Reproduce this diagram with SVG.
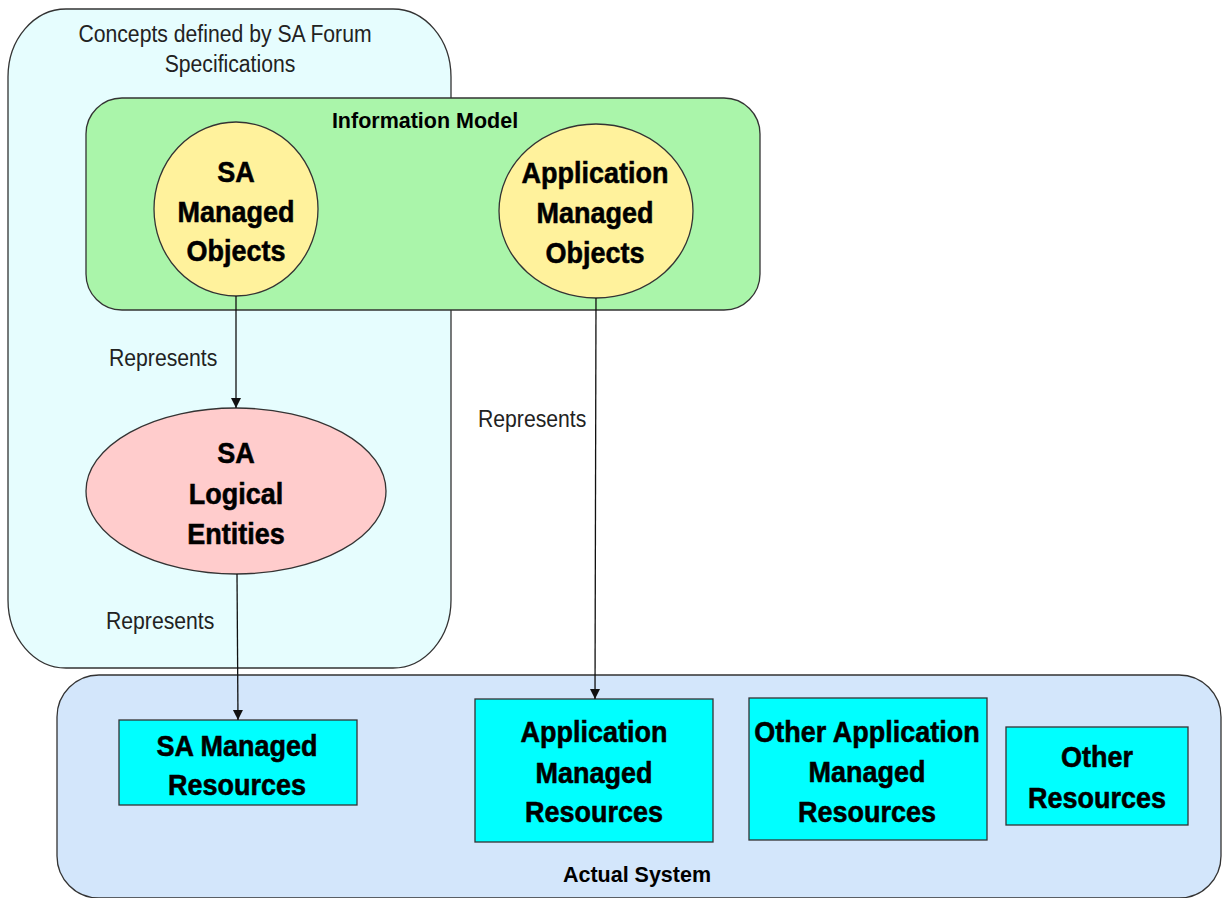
<svg xmlns="http://www.w3.org/2000/svg" width="1222" height="898" viewBox="0 0 1222 898">
  <style>
    .frame { stroke: #333; stroke-width: 1.3; }
    .big { font-family: "Liberation Sans", Arial, sans-serif; font-weight: bold; font-size: 27px; fill: #000; stroke: #000; stroke-width: 0.5; text-anchor: middle; }
    .title { font-family: "Liberation Sans", Arial, sans-serif; font-weight: bold; font-size: 21.5px; fill: #000; text-anchor: middle; }
    .plain { font-family: "Liberation Sans", Arial, sans-serif; font-size: 21.2px; fill: #222; }
    .edge { stroke: #111; stroke-width: 1.3; fill: none; marker-end: url(#arrow); }
  </style>
  <defs>
    <marker id="arrow" viewBox="0 0 10 14" refX="10" refY="7" markerUnits="userSpaceOnUse" markerWidth="10" markerHeight="14" orient="auto">
      <path d="M0,2 L10,7 L0,12 Z" fill="#111"/>
    </marker>
  </defs>
  <rect width="1222" height="898" fill="#fff"/>

  <!-- Specification scope -->
  <g id="concepts">
    <rect class="frame" x="8" y="9" width="443" height="659" rx="58" ry="68" fill="#E6FDFE"/>
    <text class="plain" text-anchor="middle" transform="matrix(1 0 0 1.15 225 42)">Concepts defined by SA Forum</text>
    <text class="plain" text-anchor="middle" transform="matrix(1 0 0 1.15 230 72)">Specifications</text>
  </g>

  <!-- Deployed system -->
  <g id="actual-system">
    <rect class="frame" x="57" y="675" width="1164" height="223" rx="42" ry="42" fill="#D3E6FB"/>
    <text class="title" transform="matrix(1 0 0 1.05 637 882)">Actual System</text>
  </g>

  <!-- Information model -->
  <g id="information-model">
    <rect class="frame" x="86" y="98" width="674" height="212" rx="36" ry="36" fill="#AAF5AA"/>
    <text class="title" transform="matrix(1 0 0 1.05 425 128)">Information Model</text>
  </g>

  <g id="sa-managed-objects">
    <ellipse class="frame" cx="236" cy="209" rx="82" ry="87" fill="#FFF29C"/>
    <text class="big" transform="matrix(1 0 0 1.08 236 182)">SA</text>
    <text class="big" transform="matrix(1 0 0 1.08 236 222)">Managed</text>
    <text class="big" transform="matrix(1 0 0 1.08 236 261)">Objects</text>
  </g>

  <g id="app-managed-objects">
    <ellipse class="frame" cx="596" cy="211" rx="97" ry="87" fill="#FFF29C"/>
    <text class="big" transform="matrix(1 0 0 1.08 595 183)">Application</text>
    <text class="big" transform="matrix(1 0 0 1.08 595 223)">Managed</text>
    <text class="big" transform="matrix(1 0 0 1.08 595 263)">Objects</text>
  </g>

  <g id="sa-logical-entities">
    <ellipse class="frame" cx="236" cy="491" rx="150" ry="83" fill="#FFCCCC"/>
    <text class="big" transform="matrix(1 0 0 1.08 236 463)">SA</text>
    <text class="big" transform="matrix(1 0 0 1.08 236 504)">Logical</text>
    <text class="big" transform="matrix(1 0 0 1.08 236 544)">Entities</text>
  </g>

  <g id="sa-managed-resources">
    <rect class="frame" x="119" y="720" width="238" height="85" fill="#00FFFF"/>
    <text class="big" transform="matrix(1 0 0 1.08 237 756)">SA Managed</text>
    <text class="big" transform="matrix(1 0 0 1.08 237 795)">Resources</text>
  </g>

  <g id="app-managed-resources">
    <rect class="frame" x="475" y="699" width="238" height="143" fill="#00FFFF"/>
    <text class="big" transform="matrix(1 0 0 1.08 594 742)">Application</text>
    <text class="big" transform="matrix(1 0 0 1.08 594 783)">Managed</text>
    <text class="big" transform="matrix(1 0 0 1.08 594 822)">Resources</text>
  </g>

  <g id="other-app-managed-resources">
    <rect class="frame" x="749" y="698" width="238" height="142" fill="#00FFFF"/>
    <text class="big" transform="matrix(1 0 0 1.08 867 742)">Other Application</text>
    <text class="big" transform="matrix(1 0 0 1.08 867 782)">Managed</text>
    <text class="big" transform="matrix(1 0 0 1.08 867 822)">Resources</text>
  </g>

  <g id="other-resources">
    <rect class="frame" x="1006" y="727" width="182" height="98" fill="#00FFFF"/>
    <text class="big" transform="matrix(1 0 0 1.08 1097 767)">Other</text>
    <text class="big" transform="matrix(1 0 0 1.08 1097 808)">Resources</text>
  </g>

  <!-- "Represents" relations -->
  <g id="connectors">
    <line class="edge" x1="236" y1="296" x2="236" y2="408"/>
    <line class="edge" x1="237" y1="574" x2="238" y2="720"/>
    <line class="edge" x1="596" y1="298" x2="595" y2="699"/>
    <text class="plain" transform="matrix(1 0 0 1.15 109 366)">Represents</text>
    <text class="plain" transform="matrix(1 0 0 1.15 106 629)">Represents</text>
    <text class="plain" transform="matrix(1 0 0 1.15 478 427)">Represents</text>
  </g>
</svg>
